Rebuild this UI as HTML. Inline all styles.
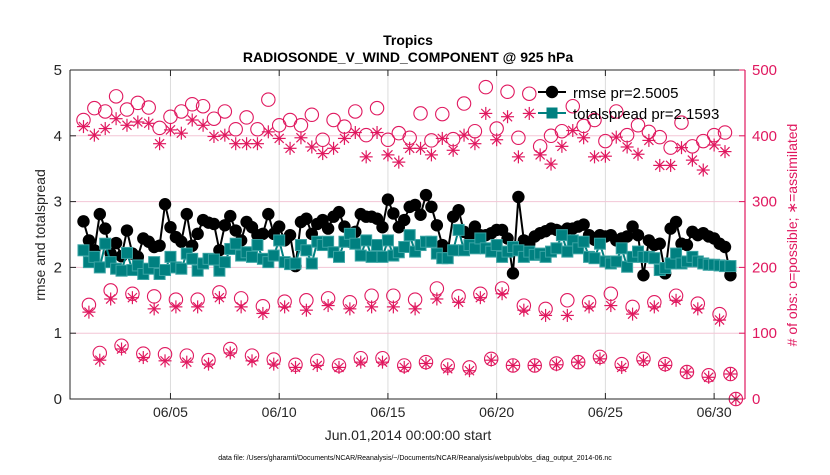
<!DOCTYPE html>
<html><head><meta charset="utf-8">
<style>
body{margin:0;background:#fff;font-family:"Liberation Sans",sans-serif;}
svg text{font-family:"Liberation Sans",sans-serif;}
</style></head>
<body>
<svg id="chart" width="830" height="470" xmlns="http://www.w3.org/2000/svg">
<rect width="830" height="470" fill="#fff"/>
<g id="grid"></g>
<g id="marks"></g>
<g id="axes"></g>
<text x="408" y="45" text-anchor="middle" font-size="14" font-weight="bold">Tropics</text>
<text x="408" y="62" text-anchor="middle" font-size="14" font-weight="bold">RADIOSONDE_V_WIND_COMPONENT @ 925 hPa</text>
<text x="408" y="440" text-anchor="middle" font-size="14" fill="#262626">Jun.01,2014 00:00:00 start</text>
<text transform="translate(45,235) rotate(-90)" text-anchor="middle" font-size="14" fill="#262626">rmse and totalspread</text>
<text transform="translate(797,235) rotate(-90)" text-anchor="middle" font-size="14" fill="#e0185f"># of obs: o=possible; ∗=assimilated</text>
<text x="415" y="460" text-anchor="middle" font-size="7" fill="#000">data file: /Users/gharamti/Documents/NCAR/Reanalysis/~/Documents/NCAR/Reanalysis/webpub/obs_diag_output_2014-06.nc</text>
<g id="legend"></g>
</svg>
<script>
// ---- data ----
const xTickLabels = ["06/05","06/10","06/15","06/20","06/25","06/30"];
const xTickDays = [4,9,14,19,24,29];
const yTicks = [0,1,2,3,4,5];
const y2Ticks = [0,100,200,300,400,500];
const rmse = [2.70,2.41,2.26,2.81,2.59,2.21,2.37,2.17,2.56,2.21,2.16,2.44,2.39,2.31,2.33,2.96,2.61,2.46,2.39,2.81,2.33,2.51,2.72,2.68,2.66,2.26,2.64,2.78,2.56,2.41,2.69,2.61,2.49,2.51,2.81,2.51,2.62,2.41,2.49,2.02,2.69,2.74,2.51,2.66,2.72,2.59,2.77,2.84,2.62,2.39,2.54,2.81,2.77,2.77,2.74,2.61,3.03,2.82,2.61,
2.72,2.92,2.95,2.80,3.10,2.92,2.64,2.34,2.24,2.77,2.87,2.54,2.49,2.62,2.49,2.49,2.52,2.57,2.57,2.44,1.91,3.07,2.41,2.36,2.47,2.52,2.55,2.59,2.57,2.54,
2.59,2.59,2.62,2.65,2.49,2.42,2.49,2.47,2.49,2.41,2.44,2.47,2.62,2.49,1.88,2.41,2.34,2.36,1.91,2.59,2.69,2.36,2.34,2.54,2.49,2.52,2.47,2.44,2.36,2.31,1.88];
const totalspread = [2.26,2.08,2.16,2.00,2.36,2.08,1.98,1.95,2.22,1.96,2.03,1.90,1.98,2.08,1.90,1.96,2.16,2.00,1.98,2.21,2.13,1.95,2.06,2.13,2.12,1.95,2.08,2.28,2.36,2.18,2.23,2.16,2.34,2.13,2.08,2.18,2.41,2.08,2.05,2.06,2.34,2.26,2.06,2.39,2.34,2.39,2.23,2.16,2.39,2.51,2.36,2.18,2.41,2.16,2.34,2.16,2.41,2.18,2.23,
2.31,2.49,2.24,2.34,2.39,2.39,2.21,2.14,2.14,2.26,2.57,2.26,2.34,2.29,2.44,2.29,2.24,2.34,2.16,2.24,2.31,2.26,2.16,2.24,2.19,2.21,2.16,2.24,2.29,2.49,
2.24,2.41,2.29,2.39,2.16,2.14,2.36,2.09,2.06,2.09,2.29,2.01,2.16,2.24,2.16,2.16,2.14,1.96,1.99,2.06,2.21,2.06,2.09,2.16,2.09,2.06,2.04,2.04,2.03,2.02,2.02];
// obs counts: 00Z/12Z (every 0.5 day from day 0), 06Z, 18Z
const possMain = [424,442,437,460,440,450,443,412,429,437,448,445,426,437,410,428,410,455,416,424,416,432,394,424,414,437,401,442,394,404,397,434,393,433,395,449,407,474,411,467,397,464,384,400,407,445,415,424,392,437,401,416,406,398,382,420,384,392,401,405,0];
const assimMain = [414,401,411,426,416,421,419,388,409,404,424,416,399,401,388,388,388,406,396,381,397,383,373,381,396,405,368,405,371,360,381,381,371,396,378,401,388,434,394,429,368,434,371,357,384,408,397,368,369,398,383,372,393,355,355,382,363,348,386,376,0];
const poss06 = [143,165,160,156,151,151,162,153,141,148,150,153,147,157,157,151,168,156,160,168,142,137,150,147,160,140,147,157,145,129];
const assim06 = [132,152,154,137,140,140,154,140,130,140,135,142,137,140,140,137,152,147,154,160,135,127,127,140,142,129,140,150,137,120];
const poss18 = [70,81,69,68,66,59,76,66,60,52,58,51,62,62,51,56,51,48,61,51,51,54,56,64,53,61,53,41,36,38];
const assim18 = [59,76,63,58,56,53,70,58,53,48,51,48,56,56,48,54,46,43,59,51,51,52,56,61,48,58,51,41,33,38];

// ---- scales ----
const L=70,R=745,T=70,B=399;
const t0=-0.62,t1=30.42;
const X=t=>L+(t-t0)/(t1-t0)*(R-L);
const Y=v=>B-v/5*(B-T);
const Y2=c=>B-c/500*(B-T);
const NS="http://www.w3.org/2000/svg";
function mk(tag,attrs,parent){const e=document.createElementNS(NS,tag);for(const k in attrs)e.setAttribute(k,attrs[k]);parent.appendChild(e);return e;}
const grid=document.getElementById('grid'),marks=document.getElementById('marks'),axes=document.getElementById('axes'),legend=document.getElementById('legend');
const MAG="#e0185f";

xTickDays.forEach((d,i)=>{
  const g=mk('line',{x1:X(d),x2:X(d),y1:T,y2:B,stroke:'#dcdcdc','stroke-width':1},grid);
  
  
});
yTicks.forEach(v=>{ if(v>0&&v<5){
  const g=mk('line',{x1:L,x2:R,y1:Y(v),y2:Y(v),stroke:'#f3c6d6','stroke-width':1},grid);
  
  
}});

function star(cx,cy,s,parent){
  const g=mk('g',{stroke:MAG,'stroke-width':1.2},parent);
  
  
  mk('line',{x1:cx-s,x2:cx+s,y1:cy,y2:cy},g);
  mk('line',{x1:cx,x2:cx,y1:cy-s,y2:cy+s},g);
  mk('line',{x1:cx-s*0.7,x2:cx+s*0.7,y1:cy-s*0.7,y2:cy+s*0.7},g);
  mk('line',{x1:cx-s*0.7,x2:cx+s*0.7,y1:cy+s*0.7,y2:cy-s*0.7},g);
}
function circ(cx,cy,parent){
  const c=mk('circle',{cx:cx,cy:cy,r:6.7,fill:'none',stroke:MAG,'stroke-width':1.1},parent);
  
  
}
possMain.forEach((c,i)=>circ(X(i*0.5),Y2(c),marks));
assimMain.forEach((c,i)=>star(X(i*0.5),Y2(c),6.5,marks));
poss06.forEach((c,i)=>circ(X(i+0.25),Y2(c),marks));
assim06.forEach((c,i)=>star(X(i+0.25),Y2(c),6.5,marks));
poss18.forEach((c,i)=>circ(X(i+0.75),Y2(c),marks));
assim18.forEach((c,i)=>star(X(i+0.75),Y2(c),6.5,marks));

let p=rmse.map((v,i)=>X(i*0.25)+','+Y(v)).join(' ');
const rl=mk('polyline',{points:p,fill:'none',stroke:'#000','stroke-width':2},marks);


rmse.forEach((v,i)=>{
  const c=mk('circle',{cx:X(i*0.25),cy:Y(v),r:6.2,fill:'#000'},marks);
  
  
});
p=totalspread.map((v,i)=>X(i*0.25)+','+Y(v)).join(' ');
const tl=mk('polyline',{points:p,fill:'none',stroke:'#008080','stroke-width':2},marks);


totalspread.forEach((v,i)=>{
  const c=mk('rect',{x:X(i*0.25)-5.5,y:Y(v)-5.5,width:11,height:11,fill:'#008080',stroke:'#3aa3a3','stroke-width':1},marks);
  
  
});

const ax=mk('path',{d:`M${L},${T}V${B}H${R}`,fill:'none',stroke:'#262626','stroke-width':1},axes);


const ar=mk('line',{x1:R,x2:R,y1:T,y2:B,stroke:MAG,'stroke-width':1.2},axes);


const at=mk('line',{x1:L,x2:R,y1:T,y2:T,stroke:'#262626','stroke-width':1},axes);


yTicks.forEach(v=>{
  mk('line',{x1:L,x2:L+6,y1:Y(v),y2:Y(v),stroke:'#262626'},axes);
  const t=mk('text',{x:L-8,y:Y(v)+5,'text-anchor':'end','font-size':15,fill:'#262626'},axes);
  t.textContent=v;
  
  
});
y2Ticks.forEach(v=>{
  mk('line',{x1:R-6,x2:R,y1:Y2(v),y2:Y2(v),stroke:MAG},axes);
  const t=mk('text',{x:R+7,y:Y2(v)+5,'text-anchor':'start','font-size':15,fill:MAG},axes);
  t.textContent=v;
  
  
});
xTickDays.forEach((d,i)=>{
  mk('line',{x1:X(d),x2:X(d),y1:B,y2:B-6,stroke:'#262626'},axes);
  mk('line',{x1:X(d),x2:X(d),y1:T,y2:T+6,stroke:'#262626'},axes);
  const t=mk('text',{x:X(d),y:B+18,'text-anchor':'middle','font-size':14,fill:'#262626'},axes);
  t.textContent=xTickLabels[i];
  
  
});

mk('line',{x1:538,x2:566,y1:92,y2:92,stroke:'#000','stroke-width':2},legend);
mk('circle',{cx:552,cy:92,r:6.2,fill:'#000'},legend);
let lt=mk('text',{x:573,y:98,'font-size':15,fill:'#000'},legend);
lt.textContent='rmse pr=2.5005';


mk('line',{x1:538,x2:566,y1:113,y2:113,stroke:'#008080','stroke-width':2},legend);
mk('rect',{x:546.5,y:107.5,width:11,height:11,fill:'#008080'},legend);
lt=mk('text',{x:573,y:119,'font-size':15,fill:'#000'},legend);
lt.textContent='totalspread pr=2.1593';


</script>
</body></html>
